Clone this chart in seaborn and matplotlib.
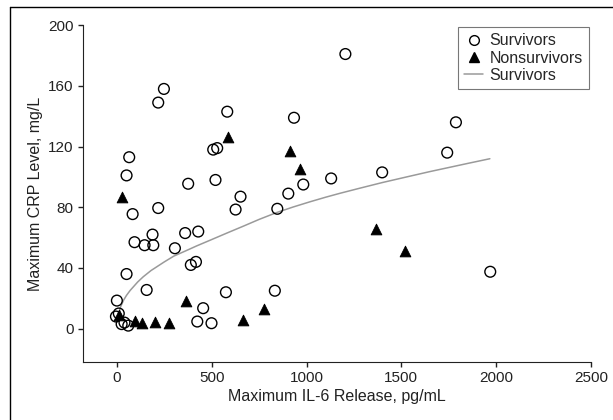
import matplotlib
matplotlib.use("Agg")
import matplotlib.pyplot as plt
from matplotlib.lines import Line2D
import seaborn as sns
import pandas as pd

# Survivors (open circles)
surv_il6 = [1205, 248, 218, 582, 934, 1788, 508, 529, 1742, 65, 51, 1399, 1130,
            520, 376, 983, 904, 652, 218, 626, 846, 83, 429, 360, 188, 93, 146,
            192, 306, 417, 390, 51, 1969, 157, 575, 833, 0, 455, 424, 499, -5,
            10, 25, 60, 40]
surv_crp = [181, 158, 149, 143, 139, 136, 118, 119, 116, 113, 101, 103, 99,
            98, 95.5, 95, 89, 87, 79.5, 78.5, 79, 75.5, 64, 63, 62, 57, 55,
            55, 53, 44, 42, 36, 37.5, 25.5, 24, 25, 18.5, 13.5, 4.7, 3.6, 8,
            10, 3, 2, 4]

# Nonsurvivors (filled triangles)
non_il6 = [587, 912, 965, 26, 1364, 1521, 367, 775, 12, 95, 130, 200, 276, 666]
non_crp = [126, 117, 105, 87, 66, 51, 18, 13, 9, 5, 3.5, 4.7, 3.6, 5.5]

# fitted curve for survivors
fit_il6 = [2, 10, 20, 35, 51, 70, 110, 139, 180, 250, 300, 367, 420, 490,
           580, 666, 750, 842, 930, 1018, 1100, 1176, 1282, 1400, 1528, 1650,
           1750, 1850, 1967]
fit_crp = [7, 10.5, 14.5, 18.7, 22, 25.2, 30.8, 34.2, 38.3, 44, 47.8, 51.5,
           54.5, 58.2, 63, 67.5, 72, 76.5, 80.2, 83.6, 86.6, 89.2, 92.6, 96.3,
           100, 103.5, 106.2, 108.9, 112]

surv = pd.DataFrame({"il6": surv_il6, "crp": surv_crp})
non = pd.DataFrame({"il6": non_il6, "crp": non_crp})
fit = pd.DataFrame({"il6": fit_il6, "crp": fit_crp})

sns.set_style("ticks")
plt.rcParams["font.family"] = ["Liberation Sans", "DejaVu Sans"]

fig = plt.figure(figsize=(6.13, 4.2), dpi=100)
ax = fig.add_axes([0.135, 0.138, 0.829, 0.802])

sns.lineplot(data=fit, x="il6", y="crp", color="#9a9a9a", linewidth=1.1,
             ax=ax, sort=True)
sns.scatterplot(data=non, x="il6", y="crp", marker="^", color="black",
                edgecolor="black", s=60, ax=ax, zorder=3)
sns.scatterplot(data=surv, x="il6", y="crp", marker="o", facecolor="none",
                edgecolor="black", linewidth=1.0, s=60, ax=ax, zorder=4)

ax.set_xlim(-180, 2500)
ax.set_ylim(-22, 200)
ax.set_xticks([0, 500, 1000, 1500, 2000, 2500])
ax.set_yticks([0, 40, 80, 120, 160, 200])
ax.tick_params(labelsize=11, length=3.5, width=1, colors="#222222", pad=3)
ax.set_xlabel("Maximum IL-6 Release, pg/mL", fontsize=11.5, color="#222222",
              labelpad=3)
ax.set_ylabel("Maximum CRP Level, mg/L", fontsize=11.5, color="#222222")
for side in ["left", "bottom"]:
    ax.spines[side].set_color("#222222")
sns.despine(ax=ax)

handles = [
    Line2D([], [], marker="o", linestyle="none", markerfacecolor="white",
           markeredgecolor="black", markersize=7),
    Line2D([], [], marker="^", linestyle="none", color="black", markersize=7),
    Line2D([], [], color="#9a9a9a", linewidth=1.1),
]
leg = ax.legend(handles, ["Survivors", "Nonsurvivors", "Survivors"],
                loc="upper right", fontsize=11.5, frameon=True, fancybox=False,
                edgecolor="#555555", handlelength=1.2, handletextpad=0.4,
                borderpad=0.4, labelspacing=0.15, borderaxespad=0.1)
leg.get_frame().set_linewidth(0.8)

# outer frame around the figure
fig.add_artist(Line2D([0.016, 0.016], [0.0, 0.983], transform=fig.transFigure,
                      color="black", linewidth=1))
fig.add_artist(Line2D([0.016, 1.0], [0.983, 0.983], transform=fig.transFigure,
                      color="black", linewidth=1))

fig.savefig("out.png", dpi=100)
